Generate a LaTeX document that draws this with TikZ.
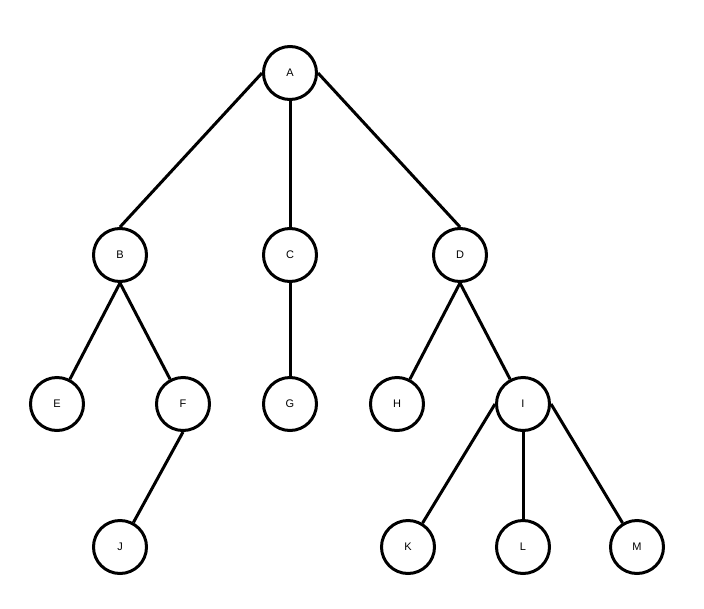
\documentclass[tikz,border=0pt]{standalone}
\usepackage{fontspec}
\setmainfont{Liberation Sans}
\begin{document}
\begin{tikzpicture}[x=1pt,y=-1pt,
  nd/.style={circle,draw,line width=3pt,minimum size=53pt,inner sep=0pt,font=\fontsize{11}{13}\selectfont},
  ed/.style={line width=3pt}]
\useasboundingbox (0,0) rectangle (704,608);
\node[nd] (A) at (290,73) {A};
\node[nd] (B) at (120,255) {B};
\node[nd] (C) at (290,255) {C};
\node[nd] (D) at (460,255) {D};
\node[nd] (E) at (57,404) {E};
\node[nd] (F) at (183,404) {F};
\node[nd] (G) at (290,404) {G};
\node[nd] (H) at (397,404) {H};
\node[nd] (I) at (523,404) {I};
\node[nd] (J) at (120,547) {J};
\node[nd] (K) at (408,547) {K};
\node[nd] (L) at (523,547) {L};
\node[nd] (M) at (637,547) {M};
\draw[ed] (A.west) -- (B.north);
\draw[ed] (A.south) -- (C.north);
\draw[ed] (A.east) -- (D.north);
\draw[ed] (B.south) -- (E);
\draw[ed] (B.south) -- (F);
\draw[ed] (C.south) -- (G.north);
\draw[ed] (D.south) -- (H);
\draw[ed] (D.south) -- (I);
\draw[ed] (F.south) -- (J);
\draw[ed] (I.west) -- (K);
\draw[ed] (I.south) -- (L.north);
\draw[ed] (I.east) -- (M);
\end{tikzpicture}
\end{document}
